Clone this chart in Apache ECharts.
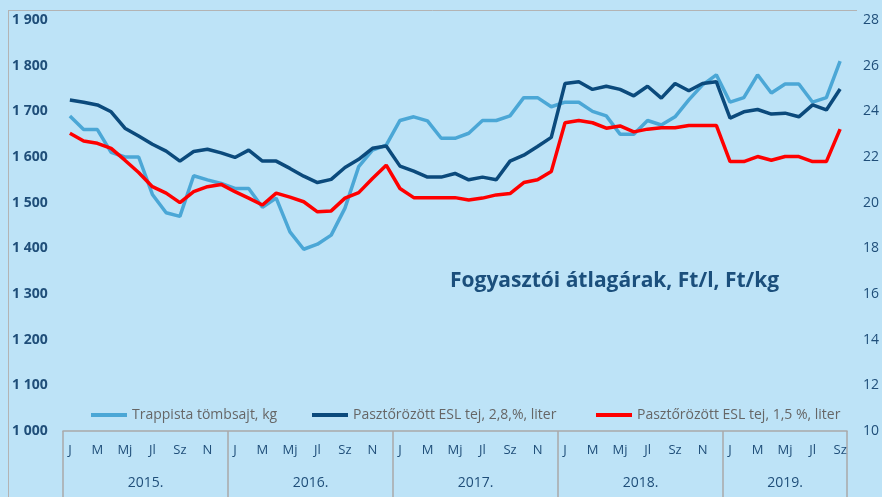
<!DOCTYPE html>
<html lang="hu">
<head>
    <meta charset="UTF-8">
    <title>Fogyasztói átlagárak</title>
    <script src="https://cdn.jsdelivr.net/npm/echarts@6/dist/echarts.min.js"></script>
    <style>
        body, html {
            margin: 0;
            padding: 0;
            width: 100%;
            height: 100%;
            background-color: #bde3f7;
        }
        #chart {
            width: 882px;
            height: 497px;
        }
    </style>
</head>
<body>
    <div id="chart"></div>
    <script>
        // hónapok rövidítései (minden második látszik)
        const monthNames = ['J', 'F', 'M', 'Á', 'Mj', 'Jn', 'Jl', 'Au', 'Sz', 'O', 'N', 'D'];
        const years = ['2015.', '2016.', '2017.', '2018.', '2019.'];
        const yearMonths = [12, 12, 12, 12, 9];

        // Trappista tömbsajt, Ft/kg (bal tengely)
        const trappista = [
            1690, 1660, 1660, 1610, 1600, 1600, 1518, 1478, 1470, 1559, 1550, 1542,
            1531, 1531, 1490, 1510, 1436, 1398, 1409, 1429, 1488, 1579, 1615, 1626,
            1680, 1688, 1679, 1641, 1641, 1652, 1680, 1680, 1690, 1730, 1730, 1710,
            1720, 1720, 1700, 1690, 1650, 1650, 1680, 1670, 1688, 1725, 1758, 1780,
            1720, 1730, 1780, 1740, 1760, 1760, 1720, 1730, 1810
        ];
        // Pasztőrözött ESL tej, 2,8% (jobb tengely)
        const esl28 = [
            24.5, 24.4, 24.28, 23.98, 23.26, 22.92, 22.56, 22.26, 21.82, 22.24, 22.34, 22.18,
            21.98, 22.3, 21.82, 21.82, 21.5, 21.16, 20.88, 21.02, 21.54, 21.9, 22.38, 22.48,
            21.6, 21.38, 21.12, 21.12, 21.28, 21.0, 21.12, 21.0, 21.82, 22.08, 22.46, 22.86,
            25.22, 25.3, 24.96, 25.1, 24.96, 24.68, 25.1, 24.58, 25.22, 24.9, 25.22, 25.3,
            23.7, 23.98, 24.08, 23.88, 23.92, 23.76, 24.28, 24.06, 24.98
        ];
        // Pasztőrözött ESL tej, 1,5% (jobb tengely)
        const esl15 = [
            23.04, 22.7, 22.6, 22.38, 21.86, 21.32, 20.7, 20.42, 20.0, 20.48, 20.7, 20.8,
            20.48, 20.2, 19.9, 20.42, 20.24, 20.04, 19.6, 19.64, 20.2, 20.44, 21.06, 21.64,
            20.62, 20.22, 20.22, 20.22, 20.22, 20.12, 20.2, 20.34, 20.4, 20.88, 21.0, 21.36,
            23.5, 23.6, 23.5, 23.26, 23.36, 23.1, 23.22, 23.28, 23.28, 23.38, 23.38, 23.38,
            21.8, 21.8, 22.02, 21.86, 22.02, 22.02, 21.8, 21.8, 23.22
        ];

        const names = [
            'Trappista tömbsajt, kg',
            'Pasztőrözött ESL tej, 2,8,%, liter',
            'Pasztőrözött ESL tej, 1,5 %, liter'
        ];
        const colors = ['#4ba7d6', '#0b4a7c', '#ff0000'];

        // kategóriák és évhatárok
        let months = [];
        let bounds = [0];
        let centers = [];
        let pos = 0;
        yearMonths.forEach(function (n) {
            for (let i = 0; i < n; i++) months.push(monthNames[i]);
            centers.push(pos + n / 2);
            pos += n;
            bounds.push(pos);
        });

        const chart = echarts.init(document.getElementById('chart'));
        const textColor = '#1f4e79';
        const gray = '#a9a9a9';

        function legendAt(idx, left) {
            return {
                data: [names[idx]],
                left: left,
                top: 403,
                icon: 'rect',
                itemWidth: 36,
                itemHeight: 4,
                itemGap: 5,
                textStyle: { color: '#666666', fontSize: 14, fontFamily: 'Open Sans' }
            };
        }

        const option = {
            backgroundColor: '#bde3f7',
            animation: false,
            title: {
                text: 'Fogyasztói átlagárak, Ft/l, Ft/kg',
                left: 445,
                top: 266,
                textStyle: { color: '#1b4f7c', fontSize: 21, fontWeight: 'bold', fontFamily: 'Open Sans' }
            },
            legend: [legendAt(0, 86), legendAt(1, 307), legendAt(2, 591)],
            grid: { left: 63, right: 33, top: 20, bottom: 66 },
            xAxis: [{
                type: 'category',
                data: months,
                boundaryGap: true,
                axisLine: { lineStyle: { color: gray, width: 1.5 } },
                axisTick: { show: false },
                axisLabel: {
                    interval: 1,
                    margin: 13,
                    color: textColor,
                    fontSize: 13,
                    fontFamily: 'Open Sans'
                }
            }, {
                type: 'value',
                min: 0,
                max: pos,
                position: 'bottom',
                axisLine: { show: false },
                splitLine: { show: false },
                axisTick: {
                    show: true,
                    customValues: bounds,
                    length: 70,
                    lineStyle: { color: gray, width: 1.5 }
                },
                axisLabel: {
                    customValues: centers,
                    margin: 45,
                    color: textColor,
                    fontSize: 14,
                    fontFamily: 'Open Sans',
                    formatter: function (v) {
                        const k = centers.indexOf(v);
                        return k >= 0 ? years[k] : '';
                    }
                }
            }],
            yAxis: [{
                type: 'value',
                min: 1000,
                max: 1900,
                interval: 100,
                splitLine: { show: false },
                axisLine: { show: false },
                axisTick: { show: false },
                axisLabel: {
                    align: 'left',
                    margin: 51,
                    color: textColor,
                    fontSize: 14,
                    fontWeight: 'bold',
                    fontFamily: 'Open Sans',
                    formatter: function (v) {
                        return Math.floor(v / 1000) + ' ' + String(v % 1000).padStart(3, '0');
                    }
                }
            }, {
                type: 'value',
                min: 10,
                max: 28,
                interval: 2,
                splitLine: { show: false },
                axisLine: { show: false },
                axisTick: { show: false },
                axisLabel: {
                    align: 'left',
                    margin: 16,
                    color: textColor,
                    fontSize: 14,
                    fontFamily: 'Open Sans'
                }
            }],
            series: [trappista, esl28, esl15].map(function (d, i) {
                return {
                    name: names[i],
                    type: 'line',
                    yAxisIndex: i === 0 ? 0 : 1,
                    data: d,
                    showSymbol: false,
                    color: colors[i],
                    lineStyle: { width: 3.5, color: colors[i] },
                    z: i === 2 ? 4 : 3
                };
            }),
            graphic: [{
                type: 'line',
                shape: { x1: 8, y1: 10.5, x2: 857, y2: 10.5 },
                style: { stroke: '#b3b3b3', lineWidth: 1 }
            }, {
                type: 'line',
                shape: { x1: 8.5, y1: 10, x2: 8.5, y2: 497 },
                style: { stroke: '#b3b3b3', lineWidth: 1 }
            }]
        };

        chart.setOption(option);
    </script>
</body>
</html>
